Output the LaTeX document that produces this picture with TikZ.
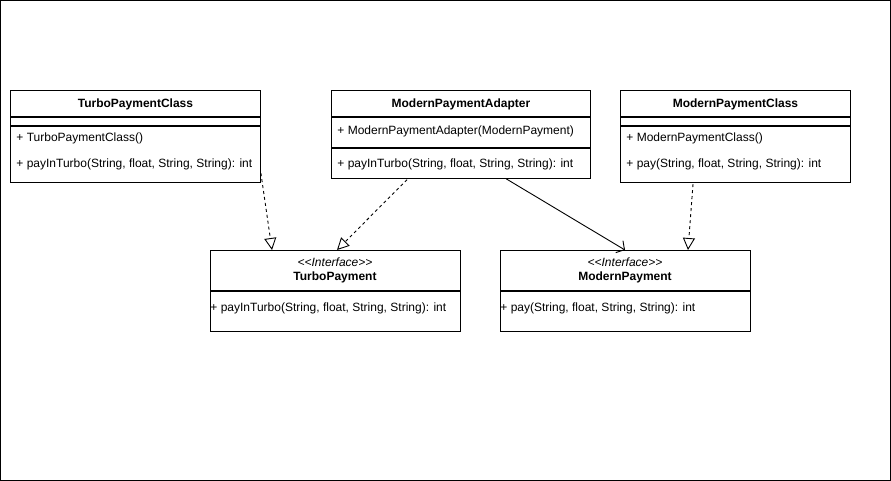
\documentclass[tikz,border=0pt]{standalone}
\usepackage{fontspec}
\setmainfont{Liberation Sans}
\usetikzlibrary{arrows.meta,calc}

\begin{document}
\begin{tikzpicture}[x=1pt, y=-1pt, line width=0.9pt,
			box/.style={draw, anchor=north west, inner sep=0pt, text height=8.5pt, text depth=0pt, font=\fontsize{12}{14}\selectfont\bfseries},
			member/.style={anchor=west, inner sep=0pt, yshift=-1pt, font=\fontsize{12}{14}\selectfont},
			stereo/.style={inner sep=0pt, yshift=-1pt, font=\fontsize{12}{14}\selectfont\itshape},
			realize/.style={dash pattern=on 3pt off 3pt, -{Triangle[open, length=12pt, width=12pt]}},
			assoc/.style={-{Straight Barb[length=6pt, width=14pt]}}]
	\useasboundingbox (0,0) rectangle (891,481);
	\draw (0.5,0.5) rectangle (890.5,480.5);
	% classes
	\node[box, minimum width=250pt, minimum height=26pt] (tpchead) at (10,90) {TurboPaymentClass};
	\node[box, minimum width=250pt, minimum height=4pt] (tpcattr) at (tpchead.south west) {};
	\node[box, minimum width=250pt, minimum height=56pt] (tpcops) at (tpcattr.south west) {};
	\node[member] (tpcctor) at (16,137) {+ TurboPaymentClass()};
	\node[member] (tpcpay) at (16,163) {+ payInTurbo(String, float, String, String): int};

	\node[box, minimum width=259pt, minimum height=26pt] (mpahead) at (331,90) {ModernPaymentAdapter};
	\node[box, minimum width=259pt, minimum height=30pt] (mpaattr) at (mpahead.south west) {};
	\node[box, minimum width=259pt, minimum height=30pt] (mpaops) at (mpaattr.south west) {};
	\node[member] (mpactor) at (337,130) {+ ModernPaymentAdapter(ModernPayment)};
	\node[member] (mpapay) at (337,163) {+ payInTurbo(String, float, String, String): int};

	\node[box, minimum width=230pt, minimum height=26pt] (mpchead) at (620,90) {ModernPaymentClass};
	\node[box, minimum width=230pt, minimum height=4pt] (mpcattr) at (mpchead.south west) {};
	\node[box, minimum width=230pt, minimum height=56pt] (mpcops) at (mpcattr.south west) {};
	\node[member] (mpcctor) at (626,137) {+ ModernPaymentClass()};
	\node[member] (mpcpay) at (626,163) {+ pay(String, float, String, String): int};
	% interfaces
	\node[box, minimum width=250pt, minimum height=40pt] (tphead) at (210,250) {};
	\node[box, minimum width=250pt, minimum height=40pt] (tpops) at (tphead.south west) {};
	\node[stereo] (tpstereo) at (335,261) {<\kern0pt<Interface>\kern0pt>};
	\node[member, font=\fontsize{12}{14}\selectfont\bfseries, anchor=center] (tpname) at (335,276) {TurboPayment};
	\node[member] (tppay) at (210,307) {+ payInTurbo(String, float, String, String): int};

	\node[box, minimum width=250pt, minimum height=40pt] (mphead) at (500,250) {};
	\node[box, minimum width=250pt, minimum height=40pt] (mpops) at (mphead.south west) {};
	\node[stereo] (mpstereo) at (625,261) {<\kern0pt<Interface>\kern0pt>};
	\node[member, font=\fontsize{12}{14}\selectfont\bfseries, anchor=center] (mpname) at (625,276) {ModernPayment};
	\node[member] (mppay) at (500,307) {+ pay(String, float, String, String): int};
	% relations
	\draw[realize] ($(tpcops.south east)+(0,-10)$) -- ($(tphead.north west)+(62,0)$);
	\draw[realize] ($(mpaops.south west)+(76,1)$) -- ($(tphead.north west)+(127,0)$);
	\draw[assoc] ($(mpaops.south west)+(175,0)$) -- ($(mphead.north west)+(125,0)$);
	\draw[realize] ($(mpcops.south west)+(73,1)$) -- ($(mphead.north west)+(188,0)$);
\end{tikzpicture}
\end{document}
